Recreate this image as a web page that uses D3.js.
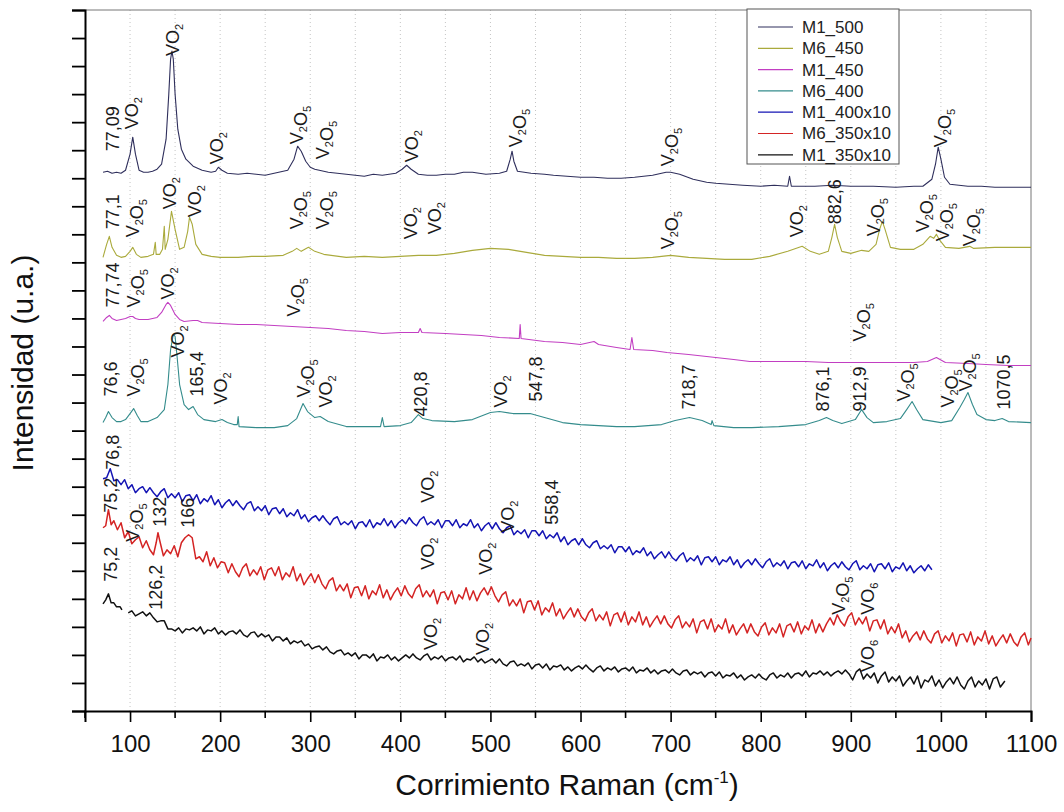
<!DOCTYPE html>
<html><head><meta charset="utf-8">
<script src="https://cdn.jsdelivr.net/npm/d3@7/dist/d3.min.js"></script>
<style>
html,body{margin:0;padding:0;background:#fff;}
svg{display:block;font-family:"Liberation Sans",Arial,sans-serif;}
</style></head>
<body>
<svg id="chart" width="1064" height="812"></svg>
<script>
// ---------- DATA ----------
const seriesNames = ["M1_500","M6_450","M1_450","M6_400","M1_400x10","M6_350x10","M1_350x10"];
const seriesColors = ["#2f2f5c","#aaaa3c","#c23ec2","#348c8c","#1414b4","#d42424","#111111"];
const xTickLabels = [100,200,300,400,500,600,700,800,900,1000,1100];

const m1_500 = [[70,538],[75,539],[80,537],[85,538],[90,537],[95,540],[100,556],[103,573],[106,556],[110,540],[115,538],[120,538],[125,539],[130,541],[135,546],[140,571],[143,616],[145,651],[146.5,659],[148,651],[150,616],[153,581],[157,561],[162,551],[170,544],[180,540],[190,538],[195,539],[198,543],[202,540],[208,537],[220,536],[230,537],[240,536],[250,535],[260,537],[275,540],[282,551],[286,564],[290,559],[295,549],[300,543],[305,541],[310,540],[320,538],[330,537],[340,536],[350,535],[360,534],[370,536],[380,535],[395,537],[402,541],[407,545],[412,541],[420,536],[430,535],[440,535],[450,536],[460,536],[470,538],[480,538],[495,536],[510,537],[518,539],[522,551],[524,559],[526,549],[530,539],[545,537],[560,536],[570,535],[585,534],[600,533],[615,533],[630,532],[645,532],[660,533],[680,535],[695,538],[700,538],[710,536],[725,531],[740,528],[750,527],[765,526],[780,525],[800,524],[815,525],[830,524],[832,534],[834,524],[860,524],[880,525],[900,524],[925,524],[950,523],[970,524],[980,524],[990,531],[994,546],[997,563],[1000,551],[1004,533],[1010,526],[1030,524],[1045,524],[1060,523],[1080,523],[1100,523]];

const m6_450 = [[70,453],[74,466],[77,474],[80,463],[85,455],[90,453],[95,454],[100,459],[103,463],[107,456],[112,453],[120,454],[126,456],[128,468],[129,456],[133,456],[136,461],[138,484],[139,461],[142,471],[146,499],[150,481],[155,461],[160,463],[164,479],[166,493],[169,486],[173,466],[180,456],[190,454],[200,453],[220,453],[235,454],[250,454],[270,455],[280,459],[285,462],[290,459],[298,463],[305,459],[315,456],[340,453],[360,454],[380,453],[400,454],[420,455],[440,455],[460,457],[480,460],[500,462],[520,461],[540,458],[560,455],[580,454],[600,453],[620,453],[640,452],[660,452],[680,453],[700,455],[720,453],[740,452],[760,451],[790,451],[810,454],[830,459],[846,464],[855,459],[865,456],[875,459],[879,473],[882,486],[885,473],[890,459],[900,457],[912,460],[920,459],[928,466],[932,481],[935,489],[938,481],[944,463],[955,461],[970,461],[980,466],[988,474],[992,472],[995,476],[998,471],[1005,463],[1020,462],[1032,464],[1036,462],[1060,463],[1080,463],[1100,463]];

const m1_450 = [[70,389],[74,393],[77,395],[80,392],[85,390],[90,391],[95,392],[100,394],[103,394],[106,392],[110,391],[120,391],[130,393],[135,398],[140,406],[142,408],[145,405],[150,396],[155,391],[160,389],[170,390],[175,390],[180,388],[200,387],[220,386],[240,386],[260,385],[280,384],[300,383],[320,382],[340,380],[360,379],[380,377],[400,378],[420,378],[422,382],[424,378],[450,377],[470,376],[490,375],[510,373],[532,372],[533,386],[534,372],[560,369],[580,368],[600,366],[615,369],[620,366],[640,363],[655,361],[657,373],[659,361],[680,360],[696,358],[720,356],[750,353],[770,351],[788,349],[820,349],[850,349],[875,348],[900,348],[925,348],[950,348],[970,348],[985,349],[995,353],[1005,348],[1030,347],[1050,346],[1075,345],[1100,345]];

const m6_400 = [[70,288],[73,293],[76,299],[80,293],[85,289],[90,289],[95,291],[100,297],[104,302],[108,295],[112,289],[120,289],[130,293],[138,301],[142,326],[145,361],[148,376],[150,374],[152,356],[155,326],[160,306],[165,301],[170,304],[175,296],[182,291],[195,289],[202,291],[208,288],[215,286],[219,286],[220,294],[221,284],[240,283],[260,283],[275,285],[285,292],[292,307],[297,299],[305,293],[311,294],[320,289],[340,284],[350,284],[378,284],[380,293],[382,284],[400,285],[412,288],[420,296],[425,292],[435,290],[460,289],[480,291],[500,298],[510,299],[525,297],[544,297],[560,293],[580,288],[600,286],[620,285],[640,284],[660,284],[690,286],[705,290],[721,293],[735,290],[745,286],[746,290],[748,285],[770,283],[790,283],[820,284],[850,286],[865,290],[873,293],[880,290],[890,287],[905,291],[912,301],[918,293],[925,288],[940,289],[955,292],[962,301],[968,309],[973,301],[980,291],[1000,288],[1012,290],[1021,303],[1026,311],[1030,318],[1035,306],[1040,296],[1050,291],[1060,290],[1068,292],[1075,289],[1100,288]];

const m1_400x10 = [[70,232],[74,233],[78,242],[82,230],[86,231],[90,226],[94,231],[98,222],[102,226],[106,218],[110,222],[114,224],[118,218],[122,223],[126,218],[130,214],[134,219],[138,222],[142,213],[146,217],[150,213],[154,218],[158,209],[162,215],[166,216],[170,210],[174,216],[178,207],[182,212],[186,209],[190,215],[194,206],[198,211],[202,203],[206,208],[210,211],[214,205],[218,210],[222,205],[226,201],[230,207],[234,209],[238,200],[242,204],[246,200],[250,205],[254,196],[258,202],[262,203],[266,197],[270,202],[274,194],[278,198],[282,195],[286,201],[290,192],[294,196],[298,189],[302,193],[306,195],[310,190],[314,195],[318,190],[322,186],[326,192],[330,194],[334,186],[338,189],[342,186],[346,190],[350,182],[354,188],[358,189],[362,184],[366,191],[370,183],[374,188],[378,186],[382,192],[386,185],[390,190],[394,183],[398,188],[402,191],[406,187],[410,193],[414,188],[418,185],[422,191],[426,194],[430,186],[434,189],[438,186],[442,191],[446,183],[450,190],[454,190],[458,185],[462,191],[466,183],[470,187],[474,185],[478,191],[482,183],[486,187],[490,180],[494,185],[498,188],[502,182],[506,188],[510,182],[514,178],[518,183],[522,185],[526,176],[530,180],[534,177],[538,181],[542,173],[546,180],[550,180],[554,175],[558,180],[562,172],[566,176],[570,173],[574,178],[578,169],[582,174],[586,166],[590,170],[594,172],[598,166],[602,172],[606,166],[610,163],[614,168],[618,170],[622,162],[626,165],[630,162],[634,166],[638,158],[642,164],[646,164],[650,159],[654,164],[658,156],[662,160],[666,158],[670,163],[674,155],[678,159],[682,152],[686,156],[690,159],[694,153],[698,159],[702,153],[706,150],[710,155],[714,158],[718,149],[722,153],[726,150],[730,155],[734,146],[738,153],[742,154],[746,149],[750,154],[754,146],[758,151],[762,149],[766,154],[770,146],[774,151],[778,143],[782,148],[786,151],[790,146],[794,152],[798,147],[802,143],[806,149],[810,152],[814,144],[818,148],[822,145],[826,150],[830,142],[834,148],[838,149],[842,144],[846,150],[850,142],[854,147],[858,145],[862,151],[866,143],[870,148],[874,140],[878,145],[882,148],[886,143],[890,149],[894,144],[898,141],[902,147],[906,150],[910,141],[914,145],[918,142],[922,147],[926,139],[930,146],[934,147],[938,142],[942,148],[946,139],[950,144],[954,142],[958,148],[962,140],[966,145],[970,138],[974,142],[978,145],[982,140],[986,146],[990,141]];

const m6_350x10 = [[70,183],[73,185],[76,201],[79,186],[82,190],[86,181],[90,188],[94,173],[98,179],[102,167],[106,171],[110,174],[114,163],[118,170],[122,161],[126,156],[129,168],[131,178],[133,170],[137,155],[141,161],[145,157],[149,165],[153,154],[157,168],[161,173],[165,176],[169,173],[173,152],[177,154],[181,149],[185,159],[189,145],[193,153],[197,143],[201,149],[205,148],[209,138],[213,147],[217,139],[221,134],[225,143],[229,147],[233,135],[237,141],[241,136],[245,144],[249,131],[253,141],[257,143],[261,135],[265,144],[269,131],[273,138],[277,134],[281,144],[285,130],[289,137],[293,126],[297,132],[301,137],[305,128],[309,136],[313,127],[317,122],[321,130],[325,133],[329,120],[333,126],[337,120],[341,127],[345,113],[349,123],[353,124],[357,115],[361,125],[365,112],[369,120],[373,116],[377,126],[381,113],[385,121],[389,111],[393,118],[397,123],[401,115],[405,125],[409,117],[413,113],[417,122],[421,126],[425,114],[429,120],[433,114],[437,121],[441,107],[445,118],[449,119],[453,111],[457,120],[461,107],[465,116],[469,112],[473,123],[477,111],[481,120],[485,110],[489,118],[493,123],[497,116],[501,124],[505,115],[509,109],[513,116],[517,119],[521,105],[525,111],[529,105],[533,112],[537,98],[541,109],[545,110],[549,101],[553,110],[557,96],[561,103],[565,99],[569,108],[573,95],[577,102],[581,92],[585,98],[589,103],[593,94],[597,102],[601,94],[605,90],[609,98],[613,102],[617,90],[621,96],[625,91],[629,99],[633,85],[637,96],[641,98],[645,89],[649,99],[653,86],[657,94],[661,89],[665,99],[669,86],[673,94],[677,84],[681,90],[685,95],[689,87],[693,95],[697,87],[701,83],[705,91],[709,95],[713,83],[717,89],[721,84],[725,92],[729,78],[733,89],[737,91],[741,82],[745,92],[749,79],[753,86],[757,82],[761,92],[765,78],[769,86],[773,76],[777,82],[781,87],[785,78],[789,87],[793,79],[797,75],[801,84],[805,88],[809,76],[813,83],[817,78],[821,87],[825,74],[829,85],[833,87],[837,79],[841,89],[845,77],[849,85],[853,81],[857,91],[861,78],[865,87],[869,79],[873,87],[877,93],[881,86],[885,96],[889,89],[893,85],[897,94],[901,98],[905,86],[909,93],[913,87],[917,94],[921,80],[925,90],[929,91],[933,82],[937,91],[941,77],[945,84],[949,78],[953,87],[957,73],[961,80],[965,69],[969,75],[973,79],[977,71],[981,80],[985,72],[989,68],[993,77],[997,80],[1001,68],[1005,75],[1009,70],[1013,78],[1017,65],[1021,76],[1025,77],[1029,69],[1033,79],[1037,66],[1041,74],[1045,70],[1049,80],[1053,67],[1057,75],[1061,65],[1065,71],[1069,76],[1073,68],[1077,77],[1081,69],[1085,65],[1089,74],[1093,78],[1097,66],[1100,73]];

const m1_350x10 = [[70,107],[73,111],[76,117],[79,108],[82,108],[85,104],[89,104],[91,101],[94,null],[98,98],[102,100],[106,95],[110,97],[114,99],[118,95],[122,98],[126,93],[130,89],[134,90],[138,90],[142,82],[146,82],[150,80],[154,83],[158,78],[162,82],[166,81],[170,83],[174,80],[178,84],[182,77],[186,81],[190,80],[194,83],[198,77],[202,80],[206,76],[210,79],[214,80],[218,77],[222,81],[226,76],[230,74],[234,78],[238,79],[242,74],[246,77],[250,74],[254,76],[258,70],[262,74],[266,74],[270,70],[274,73],[278,67],[282,70],[286,68],[290,70],[294,65],[298,67],[302,62],[306,64],[310,65],[314,61],[318,64],[322,59],[326,57],[330,60],[334,61],[338,56],[342,58],[346,55],[350,58],[354,52],[358,56],[362,56],[366,53],[370,57],[374,50],[378,54],[382,53],[386,56],[390,51],[394,54],[398,50],[402,53],[406,56],[410,53],[414,57],[418,53],[422,51],[426,55],[430,57],[434,51],[438,54],[442,52],[446,55],[450,50],[454,53],[458,54],[462,51],[466,55],[470,49],[474,52],[478,51],[482,54],[486,49],[490,52],[494,48],[498,50],[502,52],[506,48],[510,52],[514,47],[518,45],[522,49],[526,50],[530,45],[534,47],[538,45],[542,48],[546,42],[550,46],[554,47],[558,43],[562,47],[566,41],[570,45],[574,44],[578,46],[582,41],[586,44],[590,40],[594,43],[598,45],[602,42],[606,46],[610,42],[614,39],[618,43],[622,45],[626,40],[630,43],[634,41],[638,44],[642,39],[646,42],[650,43],[654,40],[658,44],[662,38],[666,41],[670,40],[674,43],[678,38],[682,41],[686,37],[690,40],[694,41],[698,38],[702,42],[706,38],[710,36],[714,40],[718,41],[722,36],[726,39],[730,37],[734,39],[738,34],[742,38],[746,39],[750,35],[754,39],[758,33],[762,36],[766,35],[770,38],[774,33],[778,36],[782,31],[786,34],[790,36],[794,33],[798,37],[802,33],[806,31],[810,36],[814,38],[818,33],[822,36],[826,34],[830,38],[834,33],[838,37],[842,38],[846,35],[850,40],[854,34],[858,38],[862,37],[866,40],[870,36],[874,39],[878,35],[882,38],[886,40],[890,37],[894,41],[898,37],[902,31],[906,39],[910,42],[914,32],[918,37],[922,33],[926,38],[930,28],[934,35],[938,39],[942,29],[946,34],[950,30],[954,35],[958,25],[962,30],[966,34],[970,27],[974,35],[978,23],[982,31],[986,29],[990,35],[994,25],[998,31],[1002,23],[1006,29],[1010,33],[1014,27],[1018,34],[1022,26],[1026,22],[1030,30],[1034,34],[1038,24],[1042,30],[1046,26],[1050,32],[1054,22],[1058,32],[1062,34],[1066,24],[1071,30]];

const seriesData = [m1_500, m6_450, m1_450, m6_400, m1_400x10, m6_350x10, m1_350x10];

// peak annotations: [text, wavenumber, intensity at text start]; "_d" = subscript digit
const peakLabels = [
  ["77,09",81,559],["VO_2",102,581],["VO_2",147,654],["VO_2",196,546],["V_2O_5",285,566],["V_2O_5",314,551],["VO_2",412,548],["V_2O_5",528,563],["V_2O_5",697,544],["V_2O_5",1000,563],
  ["77,1",81,481],["V_2O_5",103,473],["VO_2",144,501],["VO_2",172,493],["V_2O_5",285,481],["V_2O_5",314,481],["VO_2",411,471],["VO_2",438,476],["V_2O_5",697,461],["VO_2",840,473],["882,6",882,486],["V_2O_5",925,474],["V_2O_5",980,478],["V_2O_5",1002,469],["V_2O_5",1032,464],
  ["77,74",81,403],["V_2O_5",104,403],["VO_2",142,411],["V_2O_5",281,394],["V_2O_5",910,369],
  ["76,6",78,314],["V_2O_5",104,314],["VO_2",153,353],["165,4",174,314],["VO_2",200,306],["V_2O_5",292,313],["VO_2",317,303],["420,8",422,294],["VO_2",511,303],["547,8",550,309],["718,7",720,301],["876,1",869,299],["912,9",910,299],["V_2O_5",958,309],["V_2O_5",1007,303],["V_2O_5",1027,319],["1070,5",1069,301],
  ["76,8",81,241],["VO_2",430,208],["VO_2",519,178],["558,4",568,186],
  ["75,2",78,198],["V_2O_5",103,169],["132",133,184],["166",164,183],["VO_2",430,141],["VO_2",494,136],["V_2O_5",886,96],["VO_6",918,96],
  ["75,2",78,129],["126,2",128,101],["VO_2",433,61],["VO_2",491,56],["VO_6",918,39]
];

const xTitle = "Corrimiento Raman (cm";
const xTitleSup = "-1";
const yTitle = "Intensidad (u.a.)";

// ---------- CHART ----------
const svg = d3.select("#chart");
const pLeft = 85, pRight = 1031, pTop = 10, pBottom = 711;
const x = d3.scaleLinear().domain([50, 1100]).range([pLeft, pRight]);
const y = d3.scaleLinear().domain([0, 700]).range([pBottom, pTop]);

// dotted vertical grid
svg.append("g").selectAll("line")
  .data(d3.range(100, 1051, 50))
  .join("line")
  .attr("x1", d => x(d)).attr("x2", d => x(d))
  .attr("y1", pTop).attr("y2", pBottom)
  .attr("stroke", "#c4c4c4").attr("stroke-width", 1)
  .attr("stroke-dasharray", "1,3");

// frame top/right
svg.append("line").attr("x1", pLeft).attr("x2", pRight).attr("y1", pTop).attr("y2", pTop)
  .attr("stroke", "#777").attr("stroke-width", 1);
svg.append("line").attr("x1", pRight).attr("x2", pRight).attr("y1", pTop).attr("y2", pBottom)
  .attr("stroke", "#777").attr("stroke-width", 1);

// spectra
const line = d3.line()
  .defined(d => d[1] !== null)
  .x(d => x(d[0])).y(d => y(d[1]));
svg.append("g").selectAll("path")
  .data(seriesData)
  .join("path")
  .attr("d", d => line(d))
  .attr("fill", "none")
  .attr("stroke", (d, i) => seriesColors[i])
  .attr("stroke-width", (d, i) => i >= 4 ? 1.5 : 1.1)
  .attr("stroke-linejoin", "round");

// x axis
const xAxis = d3.axisBottom(x).tickValues(xTickLabels).tickSize(11).tickPadding(13)
  .tickFormat(d3.format("d"));
const gx = svg.append("g").attr("transform", `translate(0,${pBottom})`).call(xAxis);
gx.select(".domain").attr("stroke", "#000").attr("stroke-width", 2);
gx.selectAll(".tick line").attr("stroke", "#000").attr("stroke-width", 1.6);
gx.selectAll(".tick text").attr("font-size", 24).attr("fill", "#111")
  .attr("font-family", "'Liberation Sans',Arial,sans-serif");
// minor x ticks
svg.append("g").selectAll("line")
  .data(d3.range(50, 1051, 100))
  .join("line")
  .attr("x1", d => x(d)).attr("x2", d => x(d))
  .attr("y1", pBottom).attr("y2", pBottom + 7)
  .attr("stroke", "#000").attr("stroke-width", 1.6);

// y axis
const yAxis = d3.axisLeft(y).tickValues(d3.range(0, 701, 28)).tickSize(13).tickFormat("");
const gy = svg.append("g").attr("transform", `translate(${pLeft},0)`).call(yAxis);
gy.select(".domain").attr("stroke", "#000").attr("stroke-width", 2);
gy.selectAll(".tick line").attr("stroke", "#000").attr("stroke-width", 1.8);

// peak labels
const lblSize = 18;
const lg = svg.append("g").attr("fill", "#1a1a1a");
peakLabels.forEach(([txt, wx, iv]) => {
  const bx = x(wx) + 6.5, by = y(iv);
  const t = lg.append("text")
    .attr("x", bx).attr("y", by)
    .attr("transform", `rotate(-90,${bx},${by})`)
    .attr("font-size", lblSize);
  const parts = txt.split(/_(\d)/);
  parts.forEach((p, k) => {
    if (!p) return;
    if (k % 2 === 1) {
      t.append("tspan").attr("font-size", 11).attr("dy", 4).text(p);
      t.append("tspan").attr("dy", -4).text("");
    } else {
      t.append("tspan").text(p);
    }
  });
});

// legend
const legX = 747, legY = 9, legW = 152, legH = 155;
const leg = svg.append("g");
leg.append("rect").attr("x", legX).attr("y", legY).attr("width", legW).attr("height", legH)
  .attr("fill", "#fff").attr("stroke", "#555").attr("stroke-width", 1);
seriesNames.forEach((n, i) => {
  const ry = legY + 18 + i * 21.3;
  leg.append("line").attr("x1", legX + 11).attr("x2", legX + 46).attr("y1", ry).attr("y2", ry)
    .attr("stroke", seriesColors[i]).attr("stroke-width", 1.2);
  leg.append("text").attr("x", legX + 55).attr("y", ry).attr("dy", "0.35em")
    .attr("font-size", 17).attr("fill", "#222").text(n);
});

// axis titles
const xt = svg.append("text").attr("x", (pLeft + pRight) / 2 + 9).attr("y", 795)
  .attr("text-anchor", "middle").attr("font-size", 30).attr("fill", "#111");
xt.append("tspan").text(xTitle);
xt.append("tspan").attr("font-size", 17).attr("dy", -12).text(xTitleSup);
xt.append("tspan").attr("dy", 12).text(")");

svg.append("text").attr("transform", `translate(33,${363}) rotate(-90)`)
  .attr("text-anchor", "middle").attr("font-size", 30).attr("fill", "#111").text(yTitle);
</script>
</body></html>
